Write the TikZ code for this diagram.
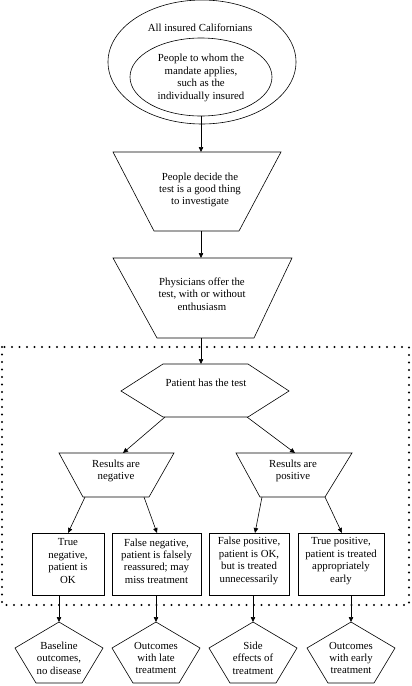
\documentclass[tikz,border=0pt]{standalone}
\usepackage{fontspec}
\setmainfont{Liberation Serif}
\usetikzlibrary{arrows.meta,shapes.geometric}
\tikzset{
 shp/.style={draw, line width=0.6pt},
 lbl/.style={align=center, inner sep=0pt, font=\fontsize{10.8}{12.4}\selectfont},
 arr/.style={draw, line width=0.6pt, -{Triangle[width=4.5pt,length=5pt]}},
 dotbox/.style={draw, line width=2.4pt, line cap=round, dash pattern=on 0pt off 7.5pt},
 ell/.style={draw, line width=0.6pt, ellipse, inner sep=0pt},
 resbox/.style={draw, line width=0.6pt, rectangle, inner sep=0pt, minimum height=62pt},
}
\begin{document}
\begin{tikzpicture}[x=1pt,y=-1pt]
\useasboundingbox (0,0) rectangle (412,686);
% dotted frame
\draw[dotbox] (2,347) rectangle (409,605);
% ellipses
\node[ell, minimum width=188pt, minimum height=124pt] (outer) at (202,62) {};
\node[ell, minimum width=142pt, minimum height=78pt] (inner) at (201,77) {};
\node[lbl] (alltxt) at (200,28) {All insured Californians};
\node[lbl] (innertxt) at (201,78) {People to whom the\\mandate applies,\\such as the\\individually insured};
% trapezoid 1
\draw[shp] (113,152) -- (281,152) -- (239,231) -- (154,231) -- cycle;
\coordinate (t1n) at (201,152);
\coordinate (t1s) at (201,231);
\node[lbl] (t1) at (200,190) {People decide the\\test is a good thing\\to investigate};
% trapezoid 2
\draw[shp] (113,258) -- (292,258) -- (254,338) -- (157,338) -- cycle;
\coordinate (t2n) at (201,258);
\coordinate (t2s) at (201,338);
\node[lbl] (t2) at (202,294) {Physicians offer the\\test, with or without\\enthusiasm};
% hexagon
\draw[shp] (163,364) -- (248,364) -- (289,391) -- (248,417) -- (163,417) -- (121,391) -- cycle;
\coordinate (hn) at (201,364);
\coordinate (hsw) at (165,417);
\coordinate (hse) at (247,417);
\node[lbl] (hex) at (206,383) {Patient has the test};
% result trapezoids
\draw[shp] (59,453) -- (174,453) -- (149,497) -- (83,497) -- cycle;
\draw[shp] (236,453) -- (352,453) -- (325,497) -- (260,497) -- cycle;
\coordinate (negn) at (123,453);
\coordinate (posn) at (295,453);
\coordinate (negsw) at (85,497);
\coordinate (negse) at (144,497);
\coordinate (possw) at (262,497);
\coordinate (posse) at (325,497);
\node[lbl] (neg) at (116,471) {Results are\\negative};
\node[lbl] (pos) at (293,471) {Results are\\positive};
% boxes
\node[resbox, minimum width=72pt] (b1) at (68,564) {};
\node[resbox, minimum width=89pt] (b2) at (156.5,564) {};
\node[resbox, minimum width=80pt] (b3) at (249,564) {};
\node[resbox, minimum width=86pt] (b4) at (341,564) {};
\node[lbl] (b1t) at (68,561) {True\\negative,\\patient is\\OK};
\node[lbl] (b2t) at (156.5,561) {False negative,\\patient is falsely\\reassured; may\\miss treatment};
\node[lbl] (b3t) at (249,561) {False positive,\\patient is OK,\\but is treated\\unnecessarily};
\node[lbl] (b4t) at (341,561) {True positive,\\patient is treated\\appropriately\\early};
\coordinate (b1n) at (68,533);
\coordinate (b2n) at (157,533);
\coordinate (b3n) at (255,533);
\coordinate (b4n) at (342,533);
\coordinate (b1s) at (59,595);
\coordinate (b2s) at (156,595);
\coordinate (b3s) at (253,595);
\coordinate (b4s) at (351,595);
% pentagons
\foreach \cx/\nm in {59/p1,156/p2,253/p3,351/p4}{
  \draw[shp] (\cx,622) -- (\cx+44,648) -- (\cx+23,683) -- (\cx-23,683) -- (\cx-44,648) -- cycle;
  \coordinate (\nm n) at (\cx,622);
}
\node[lbl] (p1t) at (59,658) {Baseline\\outcomes,\\no disease};
\node[lbl] (p2t) at (156,658) {Outcomes\\with late\\treatment};
\node[lbl] (p3t) at (253,658) {Side\\effects of\\treatment};
\node[lbl] (p4t) at (351,658) {Outcomes\\with early\\treatment};
% connectors
\draw[arr] (inner.south) -- (t1n);
\draw[arr] (t1s) -- (t2n);
\draw[arr] (t2s) -- (hn);
\draw[arr] (hsw) -- (negn);
\draw[arr] (hse) -- (posn);
\draw[arr] (negsw) -- (b1n);
\draw[arr] (negse) -- (b2n);
\draw[arr] (possw) -- (b3n);
\draw[arr] (posse) -- (b4n);
\draw[arr] (b1s) -- (p1n);
\draw[arr] (b2s) -- (p2n);
\draw[arr] (b3s) -- (p3n);
\draw[arr] (b4s) -- (p4n);
\end{tikzpicture}
\end{document}
